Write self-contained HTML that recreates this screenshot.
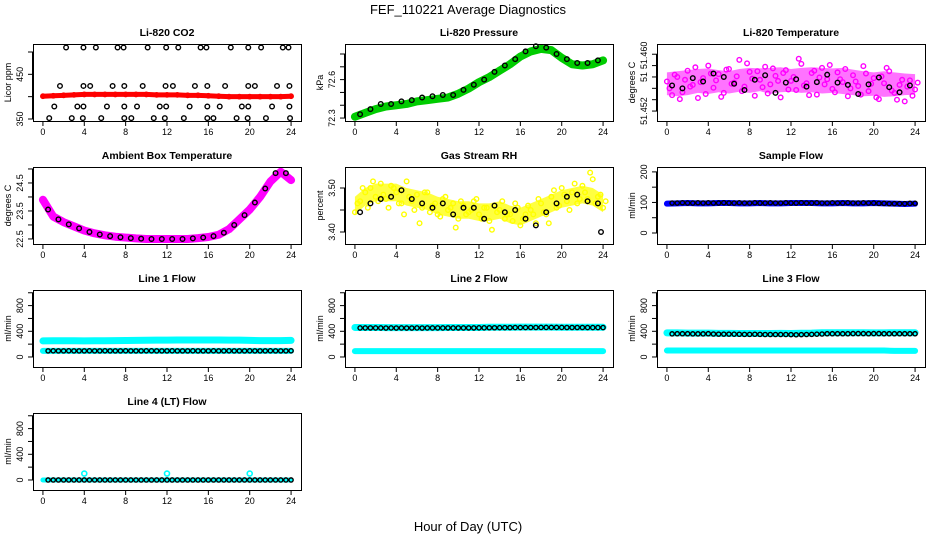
<!DOCTYPE html>
<html><head><meta charset="utf-8">
<style>
html,body{margin:0;padding:0;background:#fff;}
svg{display:block;font-family:"Liberation Sans",Arial,sans-serif;}
</style></head>
<body>
<svg id="chart" width="936" height="540" viewBox="0 0 936 540">
<text x="468" y="14" text-anchor="middle" font-size="13">FEF_110221  Average Diagnostics</text>
<text x="468" y="531" text-anchor="middle" font-size="13">Hour of Day (UTC)</text>
</svg>
<script>
// ---------- data ----------
const xTicks = [0,4,8,12,16,20,24];
const hours = [0,1,2,3,4,5,6,7,8,9,10,11,12,13,14,15,16,17,18,19,20,21,22,23,24];

// CO2
const co2Red = [401,402,403,404,405,405,405,405,405,405,405,404,404,404,403,403,402,401,400,400,400,400,400,400,401];
const co2TopX = [2.24,3.92,5.12,7.22,7.8,10.13,11.92,13.09,15.25,15.81,18.17,19.86,21.1,23.2,23.75];
const co2TopY = [510,510,510,510,510,510,510,510,510,510,510,510,510,510,510];
const co2HiX = [1.65,3.92,4.57,6.74,7.87,9.65,11.86,12.57,14.7,15.9,17.62,19.86,20.5,22.64,23.84];
const co2HiY = [424,424,424,424,424,424,424,424,424,424,424,424,424,424,424];
const co2LoX = [1.1,3.33,3.92,6.19,7.87,9.1,11.3,11.92,14.19,15.9,17.1,19.24,19.86,22.16,23.84];
const co2LoY = [378,378,378,378,378,378,378,378,378,378,378,378,378,378,378];
const co2BotX = [0.61,2.79,3.86,5.64,7.87,8.55,10.72,11.79,13.63,15.9,16.49,18.73,19.8,21.57,23.9];
const co2BotY = [352,352,352,352,352,352,352,352,352,352,352,352,352,352,352];
const co2TickVals = [350,400,450,500];
const co2TickLabels = ["350","","450",""];

// Pressure
const presBand = [72.31,72.34,72.37,72.39,72.40,72.41,72.43,72.44,72.45,72.46,72.49,72.53,72.58,72.62,72.67,72.72,72.78,72.82,72.84,72.83,72.77,72.72,72.71,72.72,72.75];
const presBlack = [72.33,72.37,72.41,72.41,72.43,72.44,72.46,72.47,72.48,72.48,72.52,72.56,72.6,72.66,72.71,72.76,72.82,72.86,72.85,72.8,72.76,72.73,72.73,72.75];
const presTickVals = [72.3,72.4,72.5,72.6,72.7,72.8];
const presTickLabels = ["72.3","","","72.6","",""];

// Li-820 temperature
const tempHi = [51.4588,51.4590,51.4592,51.4594,51.4595,51.4592,51.4590,51.4594,51.4596,51.4595,51.4596,51.4597,51.4594,51.4596,51.4597,51.4596,51.4595,51.4596,51.4593,51.4590,51.4588,51.4590,51.4588,51.4586,51.4585];
const tempLo = [51.4548,51.4546,51.4548,51.4552,51.4550,51.4553,51.4551,51.4554,51.4552,51.4555,51.4550,51.4553,51.4554,51.4552,51.4553,51.4551,51.4552,51.4550,51.4548,51.4546,51.4547,51.4545,51.4546,51.4548,51.4549];
const tempA = [51.4572,51.4548,51.4580,51.4553,51.4591,51.4566,51.4543,51.4578,51.4600,51.4561,51.4585,51.4552,51.4594,51.4570,51.4610,51.4563,51.4589,51.4547,51.4575,51.4598,51.4567,51.4582,51.4544,51.4592,51.4573,51.4557,51.4603,51.4569,51.4587,51.4549,51.4596,51.4576,51.4559,51.4588,51.4571,51.4546,51.4583,51.4564,51.4599,51.4555,51.4578,51.4541,51.4569,51.4590,51.4552,51.4566,51.4537,51.4574,51.4558];
const tempB = [51.4560,51.4584,51.4541,51.4575,51.4563,51.4597,51.4571,51.4550,51.4586,51.4574,51.4545,51.4593,51.4568,51.4581,51.4555,51.4604,51.4577,51.4590,51.4562,51.4551,51.4595,51.4573,51.4587,51.4558,51.4580,51.4612,51.4565,51.4548,51.4591,51.4579,51.4567,51.4601,51.4553,51.4576,51.4594,51.4560,51.4572,51.4549,51.4586,51.4568,51.4544,51.4581,51.4596,51.4556,51.4540,51.4575,51.4563,51.4547,51.4570];
const tempBlack = [51.4565,51.4560,51.4578,51.4572,51.4586,51.4580,51.4568,51.4557,51.4575,51.4583,51.4552,51.4570,51.4576,51.4563,51.4571,51.4584,51.4570,51.4566,51.4550,51.4567,51.4579,51.4562,51.4553,51.4565];
const tempTickVals = [51.452,51.454,51.456,51.458,51.460,51.462];
const tempTickLabels = ["51.452","","","51","",""];
const tempExtraLabelVals = [51.4618];
const tempExtraLabels = ["51.460"];

// Ambient box temperature
const ambBand = [23.9,23.3,23.1,22.95,22.8,22.7,22.63,22.58,22.55,22.52,22.5,22.5,22.5,22.5,22.5,22.53,22.57,22.65,22.85,23.2,23.55,24.0,24.55,24.9,24.6];
const ambBlack = [23.55,23.2,23.02,22.88,22.75,22.66,22.6,22.56,22.53,22.51,22.5,22.5,22.5,22.5,22.52,22.55,22.6,22.72,23.0,23.35,23.8,24.3,24.85,24.85];
const ambTickVals = [22.5,23,23.5,24,24.5,25];
const ambTickLabels = ["22.5","","23.5","","24.5",""];

// Gas stream RH
const rhHi = [3.48,3.50,3.51,3.51,3.51,3.50,3.495,3.49,3.48,3.475,3.47,3.47,3.465,3.465,3.47,3.46,3.455,3.465,3.475,3.485,3.495,3.50,3.505,3.50,3.485];
const rhLo = [3.44,3.46,3.47,3.47,3.47,3.46,3.455,3.45,3.44,3.435,3.43,3.43,3.425,3.425,3.43,3.42,3.415,3.425,3.435,3.445,3.455,3.46,3.465,3.46,3.445];
const rhA = [3.445,3.47,3.49,3.50,3.48,3.51,3.475,3.505,3.49,3.465,3.515,3.47,3.485,3.455,3.49,3.46,3.44,3.475,3.45,3.465,3.43,3.46,3.445,3.47,3.44,3.455,3.425,3.46,3.45,3.43,3.44,3.465,3.415,3.44,3.45,3.42,3.465,3.44,3.48,3.455,3.50,3.47,3.49,3.465,3.505,3.475,3.52,3.48,3.455];
const rhB = [3.465,3.50,3.455,3.515,3.47,3.485,3.455,3.50,3.465,3.44,3.48,3.45,3.42,3.49,3.445,3.465,3.435,3.48,3.455,3.41,3.47,3.44,3.45,3.475,3.43,3.455,3.405,3.445,3.47,3.44,3.425,3.455,3.43,3.46,3.44,3.475,3.445,3.42,3.495,3.46,3.485,3.45,3.51,3.475,3.49,3.535,3.465,3.485,3.47];
const rhBlack = [3.445,3.465,3.475,3.48,3.495,3.475,3.465,3.455,3.465,3.44,3.455,3.455,3.43,3.46,3.445,3.45,3.43,3.415,3.445,3.465,3.48,3.485,3.47,3.465];
const rhOutX = [23.8];
const rhOutY = [3.40];
const rhTickVals = [3.40,3.45,3.50];
const rhTickLabels = ["3.40","","3.50"];

// Sample flow
const sampBand = [96,97,98,97,97,98,98,97,97,98,97,97,98,98,98,97,97,98,97,97,98,97,96,95,96];
const sampBlack = [98,98,99,98,98,99,98,99,98,98,99,98,98,99,98,98,99,98,98,99,98,98,99,98,98,99,98,98,99,98,98,99,98,98,99,98,98,99,98,98,97,97,96,96,96,96,97,97];
const sampTickVals = [0,50,100,150,200];
const sampTickLabels = ["0","","100","","200"];

// Line flows
const l1Upper = [250,252,252,252,250,252,253,254,256,258,260,262,262,264,265,265,265,264,263,262,258,255,255,255,258];
const l1Lower = [95,95,95,95,95,95,95,95,95,95,95,95,95,95,95,95,95,95,95,95,95,95,95,95,95];
const l1Black = [95,96,95,95,96,95,95,95,96,95,95,96,95,95,95,96,95,95,95,96,96,95,95,95,96,95,95,95,96,95,95,95,96,95,95,96,95,95,95,96,95,95,95,96,95,95,95,96];
const l2Upper = [460,460,460,458,458,458,458,458,458,460,460,460,460,462,462,462,464,464,464,464,462,462,462,462,462];
const l2Lower = [92,92,92,92,92,92,92,92,92,92,92,92,92,92,92,92,92,92,92,92,92,92,92,92,92];
const l2Black = [452,452,453,452,452,451,452,451,452,451,451,452,451,452,452,452,452,453,452,453,452,453,453,454,454,455,455,456,456,457,458,458,458,459,459,460,460,460,460,460,459,459,459,459,458,458,458,458];
const l3Upper = [375,375,372,372,372,368,368,365,365,365,365,368,365,370,372,378,378,378,378,378,375,375,378,378,378];
const l3Lower = [100,100,100,100,100,100,100,100,100,100,100,100,100,100,100,100,100,100,100,100,100,100,95,95,95];
const l3Black = [360,362,362,362,360,360,360,362,358,356,356,356,355,354,352,352,354,352,350,350,350,350,350,348,346,348,350,352,355,358,362,362,362,362,362,364,364,364,362,364,364,362,362,362,362,362,362,362];
const l4Base = [0,0,0,0,0,0,0,0,0,0,0,0,0,0,0,0,0,0,0,0,0,0,0,0,0];
const l4SpikeX = [4,12,20];
const l4SpikeY = [100,100,100];
const l4Black = [0,0,0,0,0,0,0,0,0,0,0,0,0,0,0,0,0,0,0,0,0,0,0,0,0,0,0,0,0,0,0,0,0,0,0,0,0,0,0,0,0,0,0,0,0,0,0,0];
const flowTickVals = [0,200,400,600,800,1000];
const flowTickLabels = ["0","","400","","800",""];

// ---------- drawing ----------
const NS = "http://www.w3.org/2000/svg";
const svg = document.getElementById("chart");
const W = 268, H = 77;
const colX = [33,345,657], rowY = [44,167,290,413];

function mk(tag, attrs, parent){
  const e = document.createElementNS(NS, tag);
  for (const k in attrs) e.setAttribute(k, attrs[k]);
  (parent||svg).appendChild(e);
  return e;
}
function offHours(n, off, step){ const a=[]; for(let i=0;i<n;i++) a.push(off+i*step); return a; }
const hourMid = offHours(24,0.5,1);
const halfStep = offHours(48,0.5,0.5);

function panel(slug, title, ylab, col, row, ylim, tickVals, tickLabels){
  const bx = colX[col], by = rowY[row];
  const g = mk("g", {});
  
  
  const X = h => bx + (h + 0.96) / 25.92 * W;
  const Y = v => by + H - (v - ylim[0]) / (ylim[1] - ylim[0]) * H;
  const t = mk("text", {x: bx + W/2, y: by - 8, "text-anchor":"middle", "font-size":"10.5", "font-weight":"bold"}, g);
  t.textContent = title;
  
  
  const plot = mk("g", {}, g);
  
  
  const xa = mk("g", {stroke:"#000","stroke-width":"1"}, g);
  
  
  mk("line", {x1:X(0), x2:X(24), y1:by+H+0.5, y2:by+H+0.5}, xa);
  xTicks.forEach(v => {
    mk("line", {x1:X(v), x2:X(v), y1:by+H, y2:by+H+5}, xa);
    const l = mk("text", {x:X(v), y:by+H+14, "text-anchor":"middle", "font-size":"9", stroke:"none"}, xa);
    l.textContent = v;
  });
  const ya = mk("g", {stroke:"#000","stroke-width":"1"}, g);
  
  
  mk("line", {x1:bx-0.5, x2:bx-0.5, y1:Y(tickVals[0]), y2:Y(tickVals[tickVals.length-1])}, ya);
  tickVals.forEach((v,i) => {
    mk("line", {x1:bx-5, x2:bx, y1:Y(v), y2:Y(v)}, ya);
    if (tickLabels[i]) {
      const l = mk("text", {x:0, y:0, "text-anchor":"middle", "font-size":"9", stroke:"none",
        transform:`translate(${bx-10},${Y(v)}) rotate(-90)`}, ya);
      l.textContent = tickLabels[i];
    }
  });
  const yl = mk("text", {x:0, y:0, "text-anchor":"middle", "font-size":"9",
    transform:`translate(${bx-22},${by+H/2}) rotate(-90)`}, g);
  yl.textContent = ylab;
  
  
  const box = mk("rect", {x:bx+0.5, y:by+0.5, width:W, height:H, fill:"none", stroke:"#000", "stroke-width":"1"}, g);
  
  
  return {X, Y, plot, slug, bx, ya};
}
function band(p, xs, vals, color, width, name){
  const pl = mk("polyline", {points: xs.map((x,i)=>p.X(x)+","+p.Y(vals[i])).join(" "),
    fill:"none", stroke:color, "stroke-width":width, "stroke-linejoin":"round", "stroke-linecap":"round"}, p.plot);
  
  
}
function envelope(p, xs, hi, lo, color, op, name){
  const pts = xs.map((x,i)=>p.X(x)+","+p.Y(hi[i])).concat(xs.slice().reverse().map((x,j)=>p.X(x)+","+p.Y(lo[xs.length-1-j])));
  const pg = mk("polygon", {points: pts.join(" "), fill:color, "fill-opacity":op, stroke:"none"}, p.plot);
  
  
}
function points(p, xs, vals, color, name, r, sw){
  const g = mk("g", {fill:"none", stroke:color, "stroke-width": sw||1.4}, p.plot);
  
  
  xs.forEach((x,i) => {
    const c = mk("circle", {cx:p.X(x), cy:p.Y(vals[i]), r: r||2.3}, g);
    
    
  });
}

// CO2
let p = panel("co2","Li-820 CO2","Licor ppm",0,0,[345.5,517.9],co2TickVals,co2TickLabels);
band(p,hours,co2Red,"#ff0000",5,"red-band");
points(p,hours,co2Red,"#ff0000","red-series",2.2);
points(p,co2TopX,co2TopY,"#000","black-top");
points(p,co2HiX,co2HiY,"#000","black-high");
points(p,co2LoX,co2LoY,"#000","black-low");
points(p,co2BotX,co2BotY,"#000","black-bottom");

// Pressure
p = panel("pressure","Li-820 Pressure","kPa",1,0,[72.277,72.878],presTickVals,presTickLabels);
band(p,hours,presBand,"#00cc00",8,"green-band");
points(p,hours,presBand,"#00cc00","green-series",2.8);
points(p,hourMid,presBlack,"#000","black-series");

// Temperature
p = panel("li820-temp","Li-820 Temperature","degrees C",2,0,[51.45025,51.4638],tempTickVals,tempTickLabels);
tempExtraLabelVals.forEach((v,i) => {
  const l = mk("text", {x:0, y:0, "text-anchor":"middle", "font-size":"9", stroke:"none",
    transform:`translate(${p.bx-10},${p.Y(v)}) rotate(-90)`}, p.ya);
  l.textContent = tempExtraLabels[i];
});
envelope(p,hours,tempHi,tempLo,"#ff00ff",0.55,"magenta-envelope");
points(p,offHours(49,0,0.5),tempA,"#ff00ff","magenta-series-a",2.3);
points(p,offHours(49,0.25,0.5),tempB,"#ff00ff","magenta-series-b",2.3);
points(p,hourMid,tempBlack,"#000","black-series");

// Ambient
p = panel("ambient-temp","Ambient Box Temperature","degrees C",0,1,[22.32,25.07],ambTickVals,ambTickLabels);
band(p,hours,ambBand,"#ff00ff",8,"magenta-band");
points(p,hours,ambBand,"#ff00ff","magenta-series",2.8);
points(p,hourMid,ambBlack,"#000","black-series");

// RH
p = panel("gas-rh","Gas Stream RH","percent",1,1,[3.3727,3.5477],rhTickVals,rhTickLabels);
envelope(p,hours,rhHi,rhLo,"#ffff00",0.75,"yellow-envelope");
points(p,offHours(49,0,0.5),rhA,"#ffff00","yellow-series-a",2.3);
points(p,offHours(49,0.25,0.5),rhB,"#ffff00","yellow-series-b",2.3);
points(p,hourMid,rhBlack,"#000","black-series");
points(p,rhOutX,rhOutY,"#000","black-outlier");

// Sample flow
p = panel("sample-flow","Sample Flow","ml/min",2,1,[-36,216],sampTickVals,sampTickLabels);
band(p,hours,sampBand,"#0000ff",6,"blue-band");
points(p,halfStep,sampBlack,"#000","black-series",2.1);

// Line 1
p = panel("line1-flow","Line 1 Flow","ml/min",0,2,[-156,1043],flowTickVals,flowTickLabels);
band(p,hours,l1Upper,"#00ffff",7,"cyan-upper-band");
band(p,hours,l1Lower,"#00ffff",6,"cyan-lower-band");
points(p,halfStep,l1Black,"#000","black-series",2.1);

// Line 2
p = panel("line2-flow","Line 2 Flow","ml/min",1,2,[-156,1043],flowTickVals,flowTickLabels);
band(p,hours,l2Upper,"#00ffff",7,"cyan-upper-band");
band(p,hours,l2Lower,"#00ffff",6,"cyan-lower-band");
points(p,halfStep,l2Black,"#000","black-series",2.1);

// Line 3
p = panel("line3-flow","Line 3 Flow","ml/min",2,2,[-156,1043],flowTickVals,flowTickLabels);
band(p,hours,l3Upper,"#00ffff",7,"cyan-upper-band");
band(p,hours,l3Lower,"#00ffff",6,"cyan-lower-band");
points(p,halfStep,l3Black,"#000","black-series",2.1);

// Line 4
p = panel("line4-flow","Line 4 (LT) Flow","ml/min",0,3,[-156,1043],flowTickVals,flowTickLabels);
band(p,hours,l4Base,"#00ffff",5,"cyan-band");
points(p,l4SpikeX,l4SpikeY,"#00ffff","cyan-spikes",2.5,1.6);
points(p,halfStep,l4Black,"#000","black-series",2.1);
</script>
</body></html>
